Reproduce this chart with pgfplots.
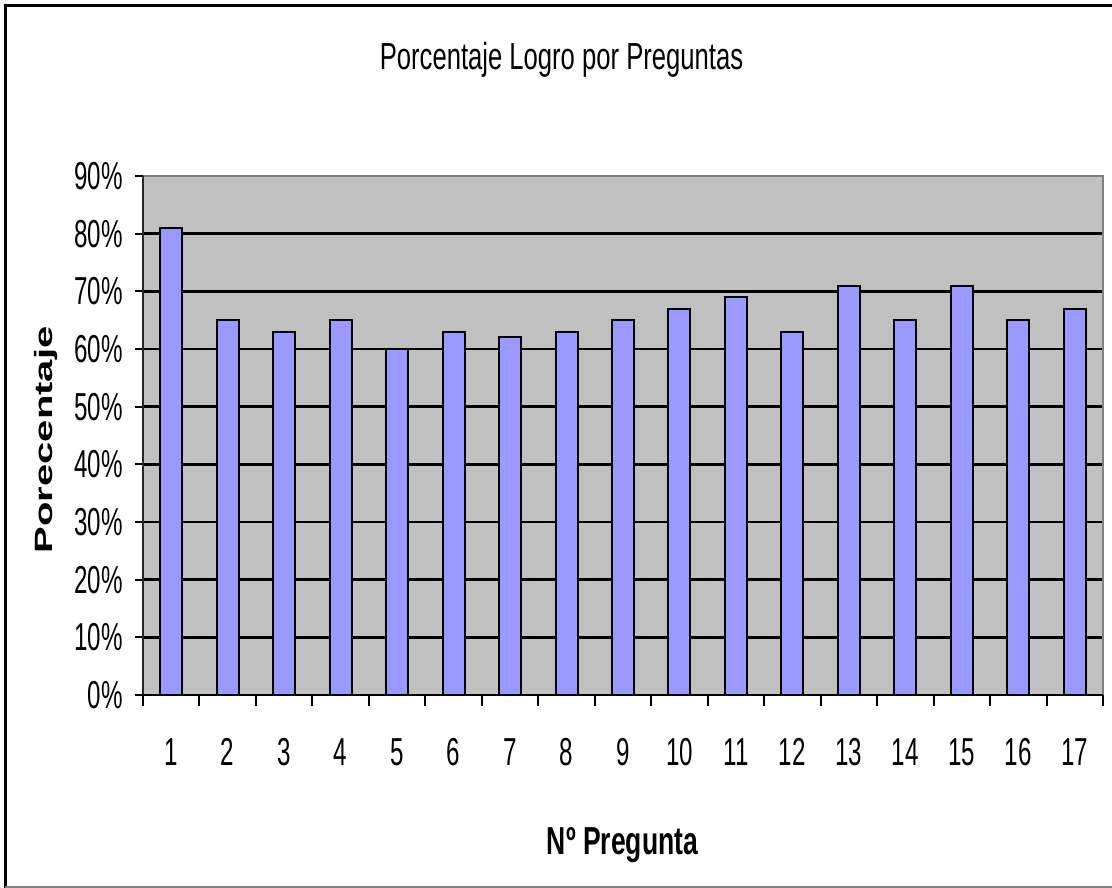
\documentclass[border=0pt]{standalone}
\usepackage{fontspec}
\setmainfont{Liberation Sans}
\newfontfamily\narrowfont{Liberation Sans}[FakeStretch=0.62]
\newfontfamily\titlefont{Liberation Sans}[FakeStretch=0.68]
\newfontfamily\widefont{Liberation Sans}[FakeStretch=1.6]
\usepackage{pgfplots}
\pgfplotsset{compat=1.18}
\definecolor{plotgray}{HTML}{C0C0C0}
\definecolor{barblue}{HTML}{9999FF}
\begin{document}
\begin{tikzpicture}
\useasboundingbox (0,0) rectangle (1112pt,888pt);
\begin{axis}[
  at={(143pt,193pt)}, anchor=south west,
  width=960pt, height=519pt, scale only axis,
  xmin=-0.5, xmax=16.5, ymin=0, ymax=90,
  axis background/.style={fill=plotgray},
  ybar, bar width=22pt,
  xtick={0,...,16}, xticklabels={1,2,3,4,5,6,7,8,9,10,11,12,13,14,15,16,17},
  major x tick style={draw=none},
  minor xtick={-0.5,0.5,...,16.5},
  minor x tick style={black, line width=2pt},
  ytick={0,10,...,90},
  yticklabel={\pgfmathprintnumber{\tick}\%},
  major y tick style={black, line width=2pt},
  tick align=outside, tick pos=left,
  major tick length=8pt, minor tick length=11pt,
  ymajorgrids, grid style={black, line width=2.5pt},
  axis line style={draw=none},
  /pgf/number format/assume math mode=true,
  yticklabel style={font=\narrowfont\fontsize{39}{39}\selectfont, anchor=east, inner sep=0pt, xshift=-12pt},
  xticklabel style={font=\narrowfont\fontsize{39}{39}\selectfont, anchor=north, inner sep=0pt, yshift=-35pt},
  clip=false,
]
\addplot[fill=barblue, draw=black, line width=2pt] coordinates {
(0,81) (1,65) (2,63) (3,65) (4,60) (5,63) (6,62) (7,63) (8,65)
(9,67) (10,69) (11,63) (12,71) (13,65) (14,71) (15,65) (16,67)};
\draw[gray, line width=2pt] (rel axis cs:0,1) -- (rel axis cs:1,1) -- (rel axis cs:1,0);
\draw[black!85, line width=2pt] (rel axis cs:0,1) -- (rel axis cs:0,0);
\draw[black, line width=2.5pt] (rel axis cs:0,0) -- (rel axis cs:1,0);
\end{axis}
\draw[black, line width=3pt] (5.5pt,0pt) -- (5.5pt,882.5pt) -- (1112pt,882.5pt);
\draw[gray, line width=1.5pt] (5pt,1pt) -- (1112pt,1pt);
\node[anchor=base, inner sep=0pt, font=\titlefont\fontsize{37.7}{40}\selectfont] at (561.5pt,818pt) {Porcentaje Logro por Preguntas};
\node[anchor=base, inner sep=0pt, font=\titlefont\bfseries\fontsize{39}{40}\selectfont] at (622.5pt,33pt) {Nº Pregunta};
\node[anchor=base, rotate=90, inner sep=0pt, font=\widefont\bfseries\fontsize{25}{26}\selectfont] at (53pt,448pt) {Porecentaje};
\end{tikzpicture}
\end{document}
